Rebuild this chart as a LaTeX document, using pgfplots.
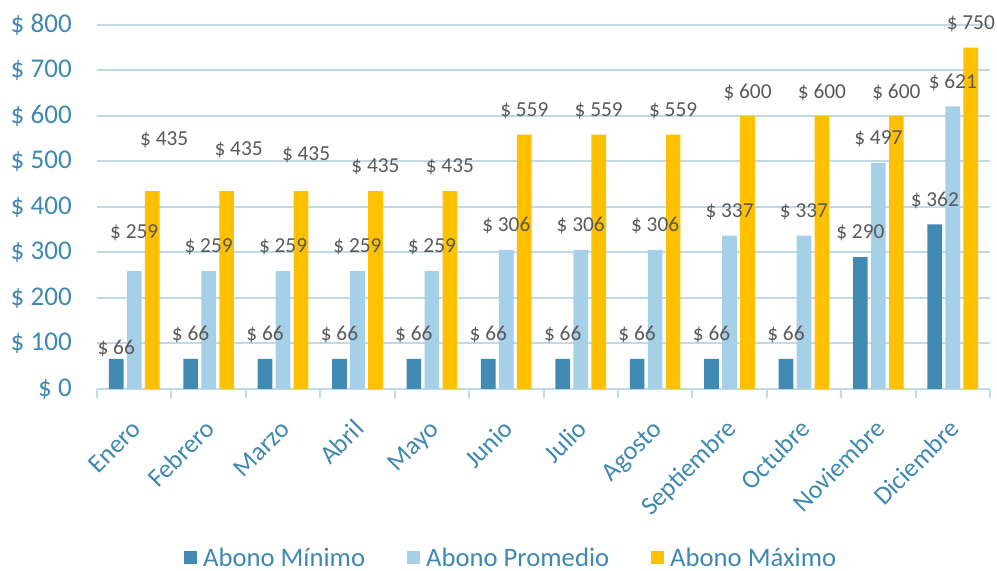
\documentclass[border=0pt]{standalone}
\usepackage{fontspec}
\setmainfont{Carlito}
\usepackage{pgfplots}
\usepackage{pgfplotstable}
\pgfplotsset{compat=1.18}
\definecolor{cmin}{HTML}{418AB3}
\definecolor{cpro}{HTML}{A6CFE8}
\definecolor{cmax}{HTML}{FFC000}
\definecolor{ctext}{HTML}{3F88B0}
\definecolor{clab}{HTML}{595959}
\definecolor{cgrid}{HTML}{C0D9E7}

\pgfplotstableread{
x y dx dy
0 66 0 7.5
1 66 0 18
2 66 0 18
3 66 0 18
4 66 0 18
5 66 0 18
6 66 0 18
7 66 0 18
8 66 0 18
9 66 0 18
10 290 0 18
11 362 0 18
}\tmin
\pgfplotstableread{
x y dx dy
0 259 0 28.5
1 259 0 18
2 259 0 18
3 259 0 18
4 259 0 18
5 306 0 18
6 306 0 18
7 306 0 18
8 337 0 18
9 337 0 18
10 497 0 18
11 621 0 18
}\tpro
\pgfplotstableread{
x y dx dy
0 435 9 38.25
1 435 9 30.75
2 435 3.75 27
3 435 0 18
4 435 0 18
5 559 0 18
6 559 0 18
7 559 0 18
8 600 0 18
9 600 0 18
10 600 0 18
11 750 0 18
}\tmax

\begin{document}
\begin{tikzpicture}
\path[use as bounding box] (0,0) rectangle (747.75pt,428.25pt);
\begin{axis}[
  at={(72.75pt,136.5pt)}, anchor=south west,
  scale only axis, width=669.75pt, height=273pt,
  xmin=-0.5, xmax=11.5, ymin=0, ymax=800,
  clip=false,
  ybar, bar width=11pt,
  axis x line*=bottom, axis y line*=left,
  y axis line style={draw=none},
  x axis line style={color=cgrid, line width=1.5pt, -},
  xtick={0,...,11},
  xticklabels={Enero,Febrero,Marzo,Abril,Mayo,Junio,Julio,Agosto,Septiembre,Octubre,Noviembre,Diciembre},
  minor xtick={-0.5,0.5,...,11.5},
  major tick length=0pt,
  minor tick length=6.75pt,
  tick align=outside,
  every minor tick/.append style={color=cgrid, line width=1.5pt},
  ytick={0,100,...,800},
  ymajorgrids,
  major grid style={color=cgrid, line width=1.5pt},
  yticklabel={\$ \pgfmathprintnumber{\tick}},
  /pgf/number format/assume math mode=true,
  yticklabel style={font=\fontsize{20.3}{23}\selectfont, text=ctext, anchor=east, inner sep=0pt, xshift=-18.75pt},
  xticklabel style={font=\fontsize{19.5}{22}\selectfont, text=ctext, xshift=1pt, yshift=-26pt, rotate=45, anchor=north east, inner sep=0pt, text height=0.7em, text depth=0.2em},
  legend columns=3,
  legend style={at={(0.466,-0.464)}, anchor=center, draw=none, fill=none,
    font=\fontsize{20}{23}\selectfont, text=ctext,
    nodes={inner xsep=4.5pt},
    /tikz/every even column/.append style={column sep=27pt}},
  sq legend/.style={legend image code/.code={\fill[##1] (0pt,-4.875pt) rectangle (9.75pt,4.875pt);}},
  lab/.style={draw=none, fill=none, forget plot,
    nodes near coords={\$ \pgfmathprintnumber{\pgfplotspointmeta}},
    visualization depends on={\thisrow{dx} \as \labdx},
    visualization depends on={\thisrow{dy} \as \labdy},
    every node near coord/.append style={anchor=center, xshift=\labdx pt, yshift=\labdy pt,
      font=\fontsize{16}{18}\selectfont, text=clab, inner sep=0pt}},
]
\addplot[fill=cmin, draw=none, bar shift=-13.5pt, sq legend] table[x=x,y=y]{\tmin};
\addplot[fill=cpro, draw=none, bar shift=0pt, sq legend] table[x=x,y=y]{\tpro};
\addplot[fill=cmax, draw=none, bar shift=13.5pt, sq legend] table[x=x,y=y]{\tmax};
\addplot[lab, bar shift=-13.5pt] table[x=x,y=y]{\tmin};
\addplot[lab, bar shift=0pt] table[x=x,y=y]{\tpro};
\addplot[lab, bar shift=13.5pt] table[x=x,y=y]{\tmax};
\legend{Abono Mínimo, Abono Promedio, Abono Máximo}
\end{axis}
\end{tikzpicture}
\end{document}
